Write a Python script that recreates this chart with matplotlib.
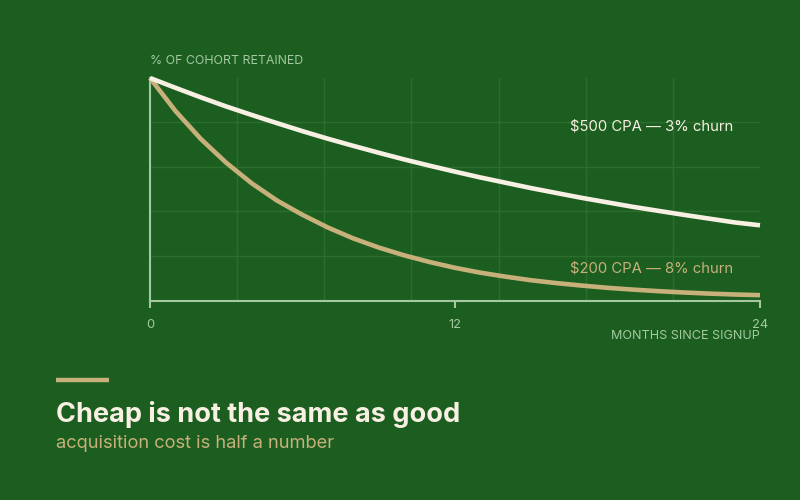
import matplotlib
matplotlib.use("Agg")
import matplotlib.pyplot as plt
import numpy as np

months = list(range(25))
retained_500 = [100, 95.6, 91.3, 87.2, 83.4, 79.7, 76.1, 72.7, 69.5, 66.4, 63.4, 60.6,
                57.9, 55.3, 52.9, 50.5, 48.3, 46.1, 44.1, 42.1, 40.3, 38.5, 36.8, 35.1, 33.8]
retained_200 = [100, 85.2, 72.6, 61.9, 52.7, 44.9, 38.5, 32.8, 27.9, 23.8, 20.3, 17.3,
                14.7, 12.5, 10.7, 9.1, 7.8, 6.7, 5.7, 4.9, 4.2, 3.6, 3.1, 2.7, 2.4]
label_500 = "$500 CPA — 3% churn"
label_200 = "$200 CPA — 8% churn"
x_ticks = [0, 12, 24]
x_tick_labels = ["0", "12", "24"]

BG = "#1b5e20"
CREAM = "#f8f0e3"
GOLD = "#c8b07a"
AXIS = "#a5c8a0"
GRID = "#2b6e2e"
FONT = "Inter"

fig = plt.figure(figsize=(8, 5), dpi=100, facecolor=BG)
ax = fig.add_axes([150/800, 1-300.5/500, 610/800, 222.5/500])
ax.set_facecolor(BG)
ax.set_xlim(0, 24)
ax.set_ylim(0, 100)

for gx in np.linspace(0, 24, 8)[1:-1]:
    ax.axvline(gx, color=GRID, lw=1, zorder=0)
for gy in [20, 40, 60, 80]:
    ax.axhline(gy, color=GRID, lw=1, zorder=0)

ax.plot(months, retained_200, color=GOLD, lw=3.3, solid_capstyle="butt",
        solid_joinstyle="round", zorder=3, clip_on=False)
ax.plot(months, retained_500, color=CREAM, lw=3.3, solid_capstyle="butt",
        solid_joinstyle="round", zorder=4, clip_on=False)

for s in ["top", "right"]:
    ax.spines[s].set_visible(False)
for s in ["left", "bottom"]:
    ax.spines[s].set_color(AXIS)
    ax.spines[s].set_linewidth(1.5)
ax.set_yticks([])
ax.set_xticks(x_ticks)
ax.set_xticklabels(x_tick_labels, family=FONT, fontsize=9.3, color=AXIS)
ax.tick_params(axis="x", length=5, width=1.5, color=AXIS, pad=8)

ax.text(733/800, 1-127/500, label_500, transform=fig.transFigure, ha="right", va="center",
        family=FONT, fontsize=10.7, color=CREAM)
ax.text(733/800, 1-268/500, label_200, transform=fig.transFigure, ha="right", va="center",
        family=FONT, fontsize=10.7, color=GOLD)

fig.text(150/800, 1-61/500, "% OF COHORT RETAINED", ha="left", va="center",
         family=FONT, fontsize=8.9, color=AXIS)
fig.text(760/800, 1-336/500, "MONTHS SINCE SIGNUP", ha="right", va="center",
         family=FONT, fontsize=9.1, color=AXIS)

fig.add_artist(plt.Line2D([56/800, 109/800], [1-379.5/500, 1-379.5/500], color=GOLD, lw=3.2,
                          solid_capstyle="butt"))
fig.text(56/800, 1-414/500, "Cheap is not the same as good", ha="left", va="center",
         family=FONT, fontsize=19.5, fontweight="bold", color=CREAM)
fig.text(56/800, 1-443/500, "acquisition cost is half a number", ha="left", va="center",
         family=FONT, fontsize=13.2, color=GOLD)

fig.savefig("out.png", dpi=100, facecolor=BG)
